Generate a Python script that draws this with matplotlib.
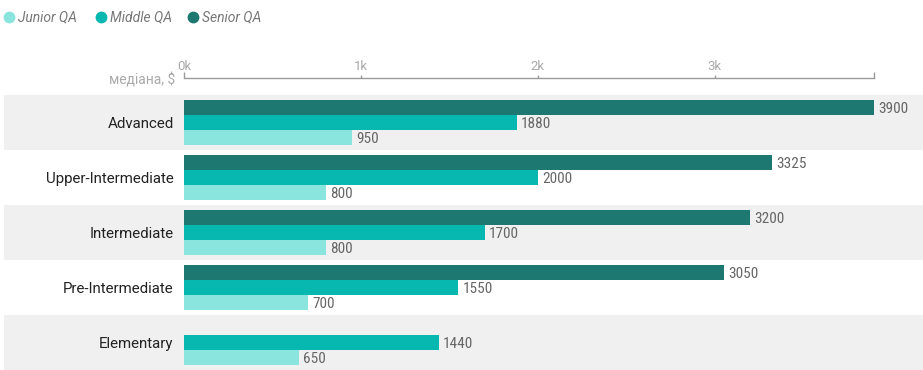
import matplotlib
matplotlib.use('Agg')
import matplotlib.pyplot as plt
from matplotlib.lines import Line2D

plt.rcParams['font.family'] = ['Roboto', 'DejaVu Sans']
narrow = ['Roboto Condensed', 'Liberation Sans Narrow', 'Roboto', 'DejaVu Sans']

# data
levels = ['Advanced', 'Upper-Intermediate', 'Intermediate', 'Pre-Intermediate', 'Elementary']
senior = [3900, 3325, 3200, 3050, None]
middle = [1880, 2000, 1700, 1550, 1440]
junior = [950, 800, 800, 700, 650]
series_names = ['Junior QA', 'Middle QA', 'Senior QA']
colors = ['#8be5df', '#07b8b0', '#1d7872']
tick_vals = [0, 1000, 2000, 3000]
tick_labels = ['0k', '1k', '2k', '3k']

W, H = 923, 370
fig = plt.figure(figsize=(W / 100, H / 100), dpi=100)

# axes in pixel terms: x 184..874, y 95..370
ax = fig.add_axes([184 / W, 0, (874 - 184) / W, (370 - 95) / H])
ax.set_xlim(0, 3900)
ax.set_ylim(len(levels) - 0.5, -0.5)

bar_h = 15 / 55
offsets = {'senior': -bar_h, 'middle': 0, 'junior': bar_h}

for i in range(len(levels)):
    if i % 2 == 0:
        ax.axhspan(i - 0.5, i + 0.5, xmin=(4 - 184) / 690, xmax=(923 - 184) / 690,
                   color='#f0f0f0', zorder=0, clip_on=False, lw=0)

for vals, key, col in [(senior, 'senior', colors[2]), (middle, 'middle', colors[1]),
                       (junior, 'junior', colors[0])]:
    for i, v in enumerate(vals):
        if v is None:
            continue
        y = i + offsets[key]
        ax.barh(y, v, height=bar_h, color=col, zorder=2, lw=0)
        ax.annotate(str(v), (v, y), xytext=(3, -1), textcoords='offset points',
                    va='center', ha='left', fontsize=11, color='#666666',
                    family=narrow, annotation_clip=False)

for i, lab in enumerate(levels):
    ax.annotate(lab, (0, i), xytext=(-7.5, -1.2), textcoords='offset points',
                ha='right', va='center', fontsize=10.8, color='#222222',
                annotation_clip=False)

ax.set_yticks([])
for s in ['left', 'right', 'bottom']:
    ax.spines[s].set_visible(False)
ax.spines['top'].set_position(('outward', 12))
ax.spines['top'].set_color('#999999')
ax.spines['top'].set_linewidth(1)
ax.xaxis.set_ticks_position('top')
ax.xaxis.set_label_position('top')
ax.set_xticks(tick_vals + [3900])
ax.set_xticklabels(tick_labels + [''])
ax.tick_params(axis='x', direction='out', length=2.5, width=1, color='#999999',
               labelcolor='#aaaaaa', labelsize=9.5, pad=1)
ticks = ax.xaxis.get_major_ticks()
ticks[0].tick2line.set_markersize(4.5)
ticks[-1].tick2line.set_markersize(4.5)
ax.patch.set_visible(False)

fig.text(175 / W, 1 - 80 / H, 'медіана, $', ha='right', va='center',
         fontsize=10, color='#aaaaaa')

# legend
leg_x = [9, 101, 193]
for x, name, col in zip(leg_x, series_names, colors):
    fig.add_artist(Line2D([x / W], [1 - 17 / H], marker='o', markersize=7.5,
                          color=col, lw=0, transform=fig.transFigure))
    fig.text((x + 9) / W, 1 - 17 / H, name, ha='left', va='center', fontsize=10,
             style='italic', color='#777777')

fig.savefig('out.png', dpi=100)
